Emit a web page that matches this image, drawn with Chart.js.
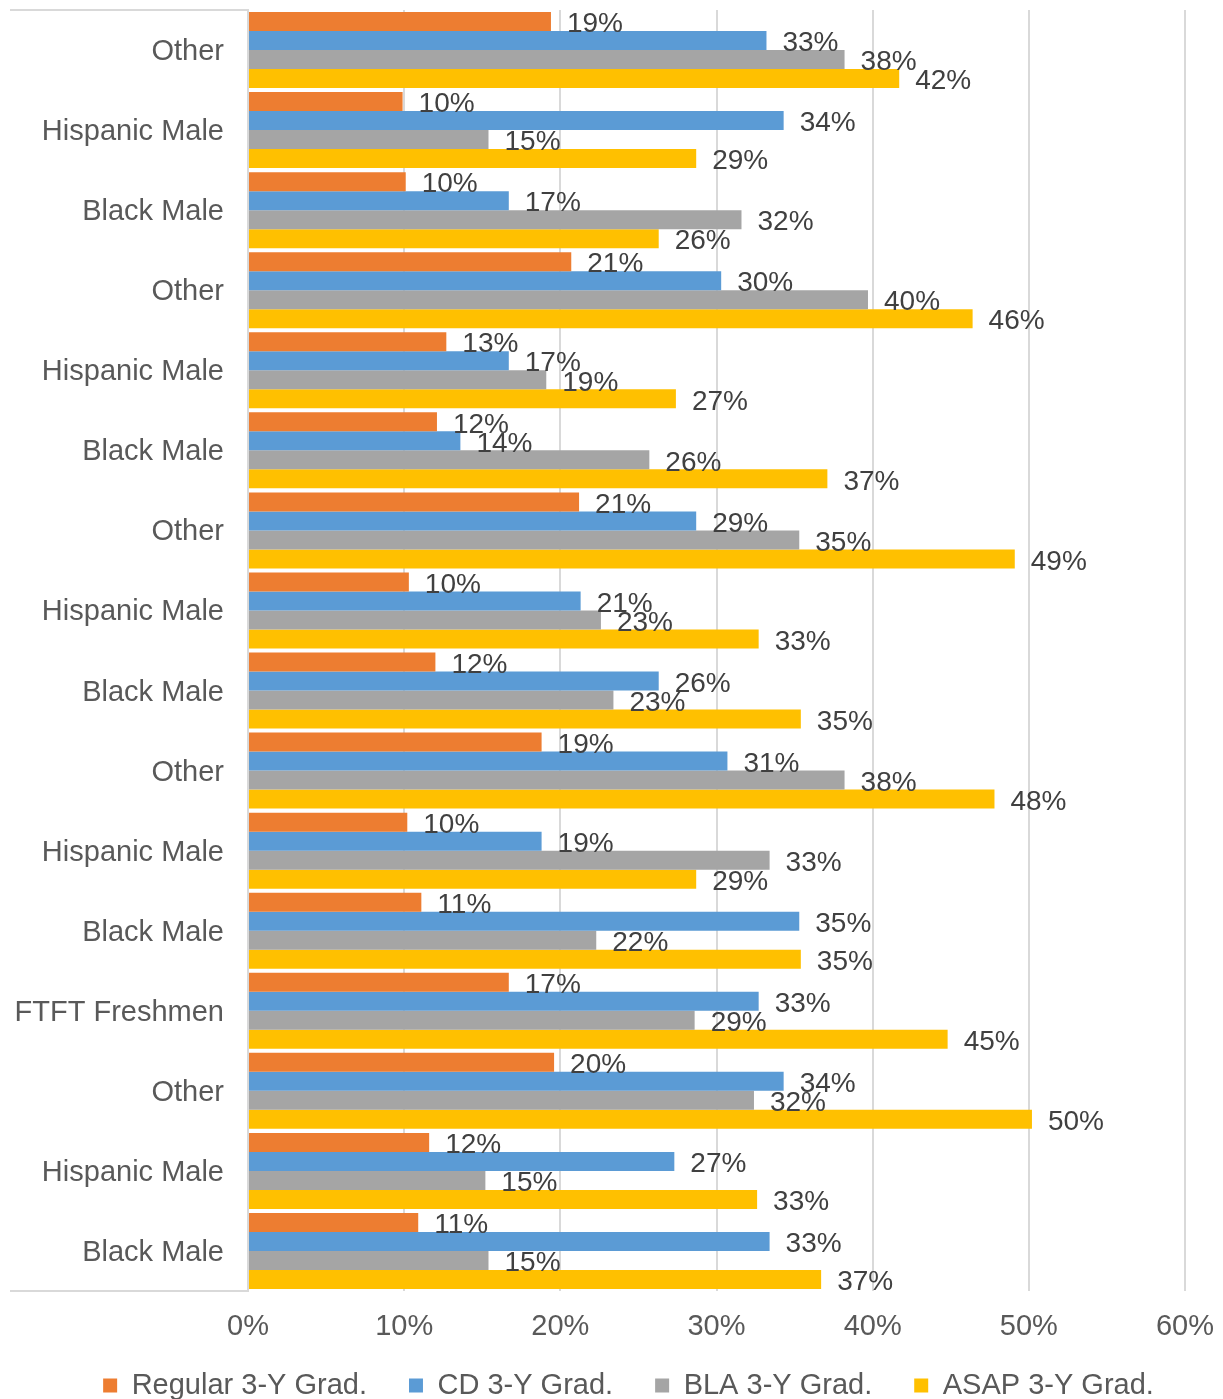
<!DOCTYPE html>
<html>
<head>
<meta charset="utf-8">
<script src="https://cdn.jsdelivr.net/npm/chart.js@4/dist/chart.umd.min.js"></script>
<style>
  html, body { margin: 0; padding: 0; background: #fff; }
  #wrap { width: 1223px; height: 1399px; }
</style>
</head>
<body>
<div id="wrap"><canvas id="bar-chart"></canvas></div>
<script>
const categories = [
  "Other", "Hispanic Male", "Black Male",
  "Other", "Hispanic Male", "Black Male",
  "Other", "Hispanic Male", "Black Male",
  "Other", "Hispanic Male", "Black Male",
  "FTFT Freshmen",
  "Other", "Hispanic Male", "Black Male"
];

const regularGrad = [19.4, 9.9, 10.1, 20.7, 12.7, 12.1, 21.2, 10.3, 12.0, 18.8, 10.2, 11.1, 16.7, 19.6, 11.6, 10.9];
const cdGrad = [33.2, 34.3, 16.7, 30.3, 16.7, 13.6, 28.7, 21.3, 26.3, 30.7, 18.8, 35.3, 32.7, 34.3, 27.3, 33.4];
const blaGrad = [38.2, 15.4, 31.6, 39.7, 19.1, 25.7, 35.3, 22.6, 23.4, 38.2, 33.4, 22.3, 28.6, 32.4, 15.2, 15.4];
const asapGrad = [41.7, 28.7, 26.3, 46.4, 27.4, 37.1, 49.1, 32.7, 35.4, 47.8, 28.7, 35.4, 44.8, 50.2, 32.6, 36.7];

const seriesNames = ["Regular 3-Y Grad.", "CD 3-Y Grad.", "BLA 3-Y Grad.", "ASAP 3-Y Grad."];
const seriesColors = ["#ED7D31", "#5B9BD5", "#A5A5A5", "#FFC000"];

const FONT = "'Liberation Sans', Arial, sans-serif";

// value labels to the right of every bar
const barLabels = {
  id: "barLabels",
  afterDatasetsDraw(chart) {
    const ctx = chart.ctx;
    ctx.save();
    ctx.font = "28px " + FONT;
    ctx.fillStyle = "#404040";
    ctx.textAlign = "left";
    ctx.textBaseline = "middle";
    chart.data.datasets.forEach((ds, i) => {
      chart.getDatasetMeta(i).data.forEach((bar, j) => {
        ctx.fillText(Math.round(ds.data[j]) + "%", bar.x + 16, bar.y + 3);
      });
    });
    ctx.restore();
  }
};

// top/bottom rules of the category label box, legend nudged right
const labelBox = {
  id: "labelBox",
  afterLayout(chart) {
    chart.legend.left += 31;
    chart.legend.right += 31;
  },
  afterDraw(chart) {
    const { ctx, chartArea } = chart;
    ctx.save();
    ctx.strokeStyle = "#d9d9d9";
    ctx.lineWidth = 2;
    ctx.beginPath();
    ctx.moveTo(10, chartArea.top);
    ctx.lineTo(chartArea.left, chartArea.top);
    ctx.moveTo(10, chartArea.bottom);
    ctx.lineTo(chartArea.left, chartArea.bottom);
    ctx.stroke();
    ctx.restore();
  }
};

const datasets = [regularGrad, cdGrad, blaGrad, asapGrad].map((values, i) => ({
  label: seriesNames[i],
  data: values,
  backgroundColor: seriesColors[i],
  categoryPercentage: 0.95,
  barPercentage: 1.0
}));

new Chart(document.getElementById("bar-chart").getContext("2d"), {
  type: "bar",
  data: { labels: categories, datasets },
  plugins: [barLabels, labelBox],
  options: {
    indexAxis: "y",
    responsive: true,
    maintainAspectRatio: false,
    animation: false,
    layout: { padding: { left: 10, top: 10, right: 38, bottom: -11 } },
    plugins: {
      tooltip: { enabled: false },
      legend: {
        position: "bottom",
        labels: {
          font: { family: FONT, size: 29 },
          color: "#595959",
          boxWidth: 14,
          boxHeight: 14,
          padding: 42
        }
      }
    },
    scales: {
      x: {
        min: 0,
        max: 60,
        afterFit(scale) {
          scale.height = 38;
          scale.paddingLeft = 0;
          scale.paddingRight = 0;
          // let the tick labels spill below the shortened axis box
          scale._computeLabelArea = () => undefined;
        },
        ticks: {
          stepSize: 10,
          callback: (v) => v + "%",
          font: { family: FONT, size: 29 },
          color: "#595959",
          padding: 19
        },
        grid: { color: "#d9d9d9", lineWidth: 2, drawTicks: false },
        border: { display: false }
      },
      y: {
        afterFit(scale) {
          scale.width = 238;
          scale.paddingTop = 0;
          scale.paddingBottom = 0;
        },
        ticks: {
          font: { family: FONT, size: 29 },
          color: "#595959",
          padding: 24,
          labelOffset: 2
        },
        grid: { display: false, drawTicks: false },
        border: { display: true, color: "#d9d9d9", width: 2 }
      }
    }
  }
});
</script>
</body>
</html>
